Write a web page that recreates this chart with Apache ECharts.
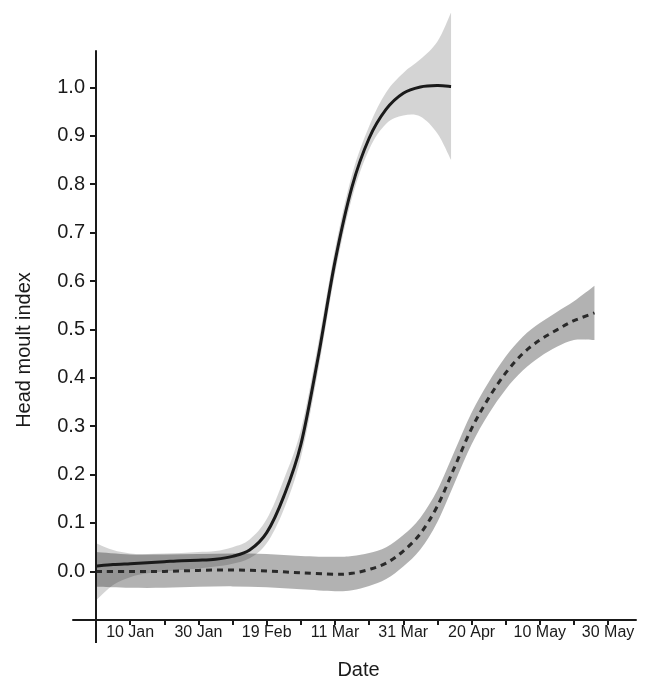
<!DOCTYPE html>
<html>
<head>
<meta charset="utf-8">
<script src="https://cdn.jsdelivr.net/npm/echarts@6/dist/echarts.min.js"></script>
<style>
  html, body { margin: 0; padding: 0; background: #fff; }
  #chart { width: 648px; height: 681px; }
</style>
</head>
<body>
<div id="chart"></div>
<script>
// day 0 = 31 Dec, so 10 Jan = day 10
const tickDays = [10, 20, 30, 40, 50, 60, 70, 80, 90, 100, 110, 120, 130, 140, 150];
const labelDays = [10, 30, 50, 70, 90, 110, 130, 150];
const labelText = ["10 Jan", "30 Jan", "19 Feb", "11 Mar", "31 Mar", "20 Apr", "10 May", "30 May"];
const yTicks = [0, 0.1, 0.2, 0.3, 0.4, 0.5, 0.6, 0.7, 0.8, 0.9, 1.0];

// solid curve (with light band)
const solidDays = [0, 5, 10, 15, 20, 25, 30, 35, 40, 45, 50, 55, 60, 65, 70, 75, 80, 85, 90, 95, 100, 104];
const solidMean = [0.011, 0.014, 0.016, 0.018, 0.020, 0.022, 0.023, 0.025, 0.031, 0.044, 0.080, 0.155, 0.262, 0.440, 0.640, 0.795, 0.895, 0.955, 0.988, 1.001, 1.004, 1.002];
const solidLo = [-0.060, -0.028, -0.012, -0.004, 0.000, 0.003, 0.006, 0.010, 0.016, 0.027, 0.058, 0.128, 0.235, 0.412, 0.615, 0.772, 0.872, 0.925, 0.942, 0.940, 0.905, 0.850];
const solidHi = [0.058, 0.044, 0.037, 0.036, 0.037, 0.038, 0.040, 0.042, 0.050, 0.066, 0.108, 0.190, 0.292, 0.468, 0.665, 0.820, 0.920, 0.990, 1.030, 1.058, 1.095, 1.155];

// dashed curve (with darker band)
const dashDays = [0, 10, 20, 30, 40, 50, 60, 70, 75, 80, 85, 90, 95, 100, 105, 110, 115, 120, 125, 130, 135, 140, 146];
const dashMean = [0.000, 0.000, 0.000, 0.002, 0.003, 0.001, -0.003, -0.006, -0.004, 0.004, 0.017, 0.042, 0.078, 0.135, 0.215, 0.295, 0.358, 0.410, 0.450, 0.478, 0.499, 0.518, 0.534];
const dashLo = [-0.032, -0.034, -0.034, -0.032, -0.031, -0.033, -0.037, -0.041, -0.039, -0.030, -0.016, 0.010, 0.045, 0.102, 0.182, 0.262, 0.325, 0.376, 0.415, 0.443, 0.464, 0.478, 0.478];
const dashHi = [0.040, 0.035, 0.035, 0.036, 0.037, 0.036, 0.032, 0.030, 0.032, 0.038, 0.050, 0.075, 0.111, 0.168, 0.248, 0.328, 0.391, 0.444, 0.485, 0.513, 0.536, 0.558, 0.590];

const FONT = "Liberation Sans";
const INK = "#1a1a1a";

// axis frame extents (in data units)
const X_MIN = -6.74, X_MAX = 158.17;
const Y_MIN = -0.148, Y_MAX = 1.16, Y_TOP = 1.077;

// catmull-rom through pixel points -> bezier path commands
function curveCmds(p, first) {
  let s = (first ? "M" : "L") + p[0][0] + " " + p[0][1];
  for (let i = 0; i < p.length - 1; i++) {
    const p0 = p[Math.max(i - 1, 0)], p1 = p[i], p2 = p[i + 1], p3 = p[Math.min(i + 2, p.length - 1)];
    const c1 = [p1[0] + (p2[0] - p0[0]) / 6, p1[1] + (p2[1] - p0[1]) / 6];
    const c2 = [p2[0] - (p3[0] - p1[0]) / 6, p2[1] - (p3[1] - p1[1]) / 6];
    s += " C" + c1[0] + " " + c1[1] + " " + c2[0] + " " + c2[1] + " " + p2[0] + " " + p2[1];
  }
  return s;
}

function bandSeries(days, lo, hi, color) {
  return {
    type: "custom",
    coordinateSystem: "cartesian2d",
    silent: true,
    data: [[days[0], lo[0]]],
    renderItem: function (params, api) {
      const top = days.map((d, i) => api.coord([d, hi[i]]));
      const bot = days.map((d, i) => api.coord([d, lo[i]])).reverse();
      return {
        type: "path",
        shape: { pathData: curveCmds(top, true) + " " + curveCmds(bot, false) + " Z" },
        style: { fill: color, stroke: null }
      };
    }
  };
}

function lineSeries(days, vals, style) {
  return {
    type: "custom",
    coordinateSystem: "cartesian2d",
    silent: true,
    data: [[days[0], vals[0]]],
    renderItem: function (params, api) {
      const pts = days.map((d, i) => api.coord([d, vals[i]]));
      return {
        type: "path",
        shape: { pathData: curveCmds(pts, true) },
        style: Object.assign({ fill: null }, style)
      };
    }
  };
}

const chart = echarts.init(document.getElementById("chart"), null, { renderer: "canvas" });

const option = {
  animation: false,
  backgroundColor: "#fff",
  grid: { left: 73, right: 12, top: 10, bottom: 38, outerBoundsMode: "none" },
  xAxis: {
    type: "value",
    min: X_MIN,
    max: X_MAX,
    offset: -23,
    name: "Date",
    nameLocation: "middle",
    nameGap: 40,
    nameTextStyle: { fontFamily: FONT, fontSize: 20, color: INK, padding: [0, 0, 0, 8] },
    axisLine: { onZero: false, lineStyle: { color: INK, width: 2 } },
    axisTick: { customValues: tickDays, length: 5, lineStyle: { color: INK, width: 2 } },
    axisLabel: {
      customValues: labelDays,
      margin: 5,
      fontFamily: FONT,
      fontSize: 16,
      color: INK,
      formatter: function (v) {
        const i = labelDays.indexOf(Math.round(v));
        return i >= 0 ? labelText[i] : "";
      }
    },
    splitLine: { show: false }
  },
  yAxis: {
    type: "value",
    min: Y_MIN,
    max: Y_MAX,
    offset: -23,
    axisLine: { show: false, onZero: false },
    axisTick: { customValues: yTicks, length: 6, lineStyle: { color: INK, width: 2 } },
    axisLabel: {
      customValues: yTicks,
      margin: 11,
      fontFamily: FONT,
      fontSize: 20,
      color: INK,
      formatter: function (v) { return v.toFixed(1); }
    },
    splitLine: { show: false }
  },
  graphic: [
    {
      type: "text",
      x: 24,
      y: 350,
      rotation: Math.PI / 2,
      style: {
        text: "Head moult index",
        fontFamily: FONT,
        fontSize: 20,
        fill: INK,
        align: "center",
        verticalAlign: "middle"
      }
    }
  ],
  series: [
    bandSeries(solidDays, solidLo, solidHi, "rgba(0,0,0,0.17)"),
    bandSeries(dashDays, dashLo, dashHi, "rgba(0,0,0,0.30)"),
    lineSeries(dashDays, dashMean, { stroke: "#2a2a2a", lineWidth: 3, lineDash: [6, 5] }),
    lineSeries(solidDays, solidMean, { stroke: INK, lineWidth: 3 }),
    {
      // y axis line, R style: runs below the x axis, stops short of the top
      type: "line",
      data: [],
      silent: true,
      markLine: {
        silent: true,
        symbol: ["none", "none"],
        label: { show: false },
        lineStyle: { color: INK, width: 2, type: "solid" },
        data: [[{ coord: [0, Y_MIN] }, { coord: [0, Y_TOP] }]]
      }
    }
  ]
};

chart.setOption(option);
</script>
</body>
</html>
